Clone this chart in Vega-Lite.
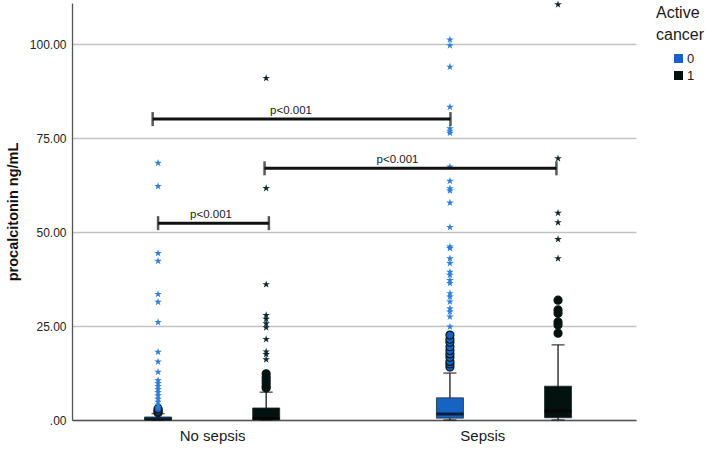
{
  "$schema": "https://vega.github.io/schema/vega-lite/v6.json",
  "width": 564,
  "height": 417,
  "autosize": {"type": "none"},
  "padding": {"left": 72, "top": 3, "right": 73, "bottom": 35},
  "background": "white",
  "config": {
    "font": "Liberation Sans",
    "view": {"stroke": null},
    "axis": {"labelColor": "#222222", "titleColor": "#111111", "domainColor": "#555555", "domainWidth": 1.3}
  },
  "datasets": {
    "boxes": [
      {"group": "No sepsis", "cancer": "0", "pos": 1.0, "lo": 0.0, "q1": 0.05, "med": 0.25, "q3": 0.8, "hi": 1.7},
      {"group": "No sepsis", "cancer": "1", "pos": 3.0, "lo": 0.0, "q1": 0.05, "med": 0.4, "q3": 3.2, "hi": 7.4},
      {"group": "Sepsis", "cancer": "0", "pos": 6.4, "lo": 0.0, "q1": 0.5, "med": 1.6, "q3": 5.9, "hi": 12.5},
      {"group": "Sepsis", "cancer": "1", "pos": 8.4, "lo": 0.0, "q1": 0.6, "med": 2.4, "q3": 9.0, "hi": 20.0}
    ],
    "outliers": [
      {"cancer": "0", "pos": 1.0, "value": 1.9},
      {"cancer": "0", "pos": 1.0, "value": 2.2},
      {"cancer": "0", "pos": 1.0, "value": 2.6},
      {"cancer": "0", "pos": 1.0, "value": 3.0},
      {"cancer": "1", "pos": 3.0, "value": 8.5},
      {"cancer": "1", "pos": 3.0, "value": 9.0},
      {"cancer": "1", "pos": 3.0, "value": 9.8},
      {"cancer": "1", "pos": 3.0, "value": 10.6},
      {"cancer": "1", "pos": 3.0, "value": 11.4},
      {"cancer": "1", "pos": 3.0, "value": 12.3},
      {"cancer": "0", "pos": 6.4, "value": 14.1},
      {"cancer": "0", "pos": 6.4, "value": 14.9},
      {"cancer": "0", "pos": 6.4, "value": 15.6},
      {"cancer": "0", "pos": 6.4, "value": 16.7},
      {"cancer": "0", "pos": 6.4, "value": 17.6},
      {"cancer": "0", "pos": 6.4, "value": 18.5},
      {"cancer": "0", "pos": 6.4, "value": 19.5},
      {"cancer": "0", "pos": 6.4, "value": 20.7},
      {"cancer": "0", "pos": 6.4, "value": 21.5},
      {"cancer": "0", "pos": 6.4, "value": 22.6},
      {"cancer": "1", "pos": 8.4, "value": 23.1},
      {"cancer": "1", "pos": 8.4, "value": 25.3},
      {"cancer": "1", "pos": 8.4, "value": 26.1},
      {"cancer": "1", "pos": 8.4, "value": 28.4},
      {"cancer": "1", "pos": 8.4, "value": 29.3},
      {"cancer": "1", "pos": 8.4, "value": 31.9}
    ],
    "extremes": [
      {"cancer": "0", "pos": 1.0, "value": 68.4},
      {"cancer": "0", "pos": 1.0, "value": 62.2},
      {"cancer": "0", "pos": 1.0, "value": 44.4},
      {"cancer": "0", "pos": 1.0, "value": 42.3},
      {"cancer": "0", "pos": 1.0, "value": 33.5},
      {"cancer": "0", "pos": 1.0, "value": 31.4},
      {"cancer": "0", "pos": 1.0, "value": 26.0},
      {"cancer": "0", "pos": 1.0, "value": 18.1},
      {"cancer": "0", "pos": 1.0, "value": 15.5},
      {"cancer": "0", "pos": 1.0, "value": 12.8},
      {"cancer": "0", "pos": 1.0, "value": 10.6},
      {"cancer": "0", "pos": 1.0, "value": 9.8},
      {"cancer": "0", "pos": 1.0, "value": 9.0},
      {"cancer": "0", "pos": 1.0, "value": 8.2},
      {"cancer": "0", "pos": 1.0, "value": 7.4},
      {"cancer": "0", "pos": 1.0, "value": 6.5},
      {"cancer": "0", "pos": 1.0, "value": 5.6},
      {"cancer": "0", "pos": 1.0, "value": 4.8},
      {"cancer": "0", "pos": 1.0, "value": 4.0},
      {"cancer": "0", "pos": 1.0, "value": 3.3},
      {"cancer": "1", "pos": 3.0, "value": 91.0},
      {"cancer": "1", "pos": 3.0, "value": 61.7},
      {"cancer": "1", "pos": 3.0, "value": 36.1},
      {"cancer": "1", "pos": 3.0, "value": 27.9},
      {"cancer": "1", "pos": 3.0, "value": 26.9},
      {"cancer": "1", "pos": 3.0, "value": 25.7},
      {"cancer": "1", "pos": 3.0, "value": 24.6},
      {"cancer": "1", "pos": 3.0, "value": 21.5},
      {"cancer": "1", "pos": 3.0, "value": 18.2},
      {"cancer": "1", "pos": 3.0, "value": 17.5},
      {"cancer": "1", "pos": 3.0, "value": 16.1},
      {"cancer": "0", "pos": 6.4, "value": 101.2},
      {"cancer": "0", "pos": 6.4, "value": 99.7},
      {"cancer": "0", "pos": 6.4, "value": 94.0},
      {"cancer": "0", "pos": 6.4, "value": 83.3},
      {"cancer": "0", "pos": 6.4, "value": 77.6},
      {"cancer": "0", "pos": 6.4, "value": 76.9},
      {"cancer": "0", "pos": 6.4, "value": 76.4},
      {"cancer": "0", "pos": 6.4, "value": 67.4},
      {"cancer": "0", "pos": 6.4, "value": 63.6},
      {"cancer": "0", "pos": 6.4, "value": 61.6},
      {"cancer": "0", "pos": 6.4, "value": 61.0},
      {"cancer": "0", "pos": 6.4, "value": 57.8},
      {"cancer": "0", "pos": 6.4, "value": 51.3},
      {"cancer": "0", "pos": 6.4, "value": 46.1},
      {"cancer": "0", "pos": 6.4, "value": 45.7},
      {"cancer": "0", "pos": 6.4, "value": 43.0},
      {"cancer": "0", "pos": 6.4, "value": 41.7},
      {"cancer": "0", "pos": 6.4, "value": 39.4},
      {"cancer": "0", "pos": 6.4, "value": 38.6},
      {"cancer": "0", "pos": 6.4, "value": 37.2},
      {"cancer": "0", "pos": 6.4, "value": 36.4},
      {"cancer": "0", "pos": 6.4, "value": 33.7},
      {"cancer": "0", "pos": 6.4, "value": 32.8},
      {"cancer": "0", "pos": 6.4, "value": 31.5},
      {"cancer": "0", "pos": 6.4, "value": 29.7},
      {"cancer": "0", "pos": 6.4, "value": 28.8},
      {"cancer": "0", "pos": 6.4, "value": 27.5},
      {"cancer": "0", "pos": 6.4, "value": 24.8},
      {"cancer": "1", "pos": 8.4, "value": 110.6},
      {"cancer": "1", "pos": 8.4, "value": 69.6},
      {"cancer": "1", "pos": 8.4, "value": 55.1},
      {"cancer": "1", "pos": 8.4, "value": 52.6},
      {"cancer": "1", "pos": 8.4, "value": 48.1},
      {"cancer": "1", "pos": 8.4, "value": 43.0}
    ],
    "brackets": [
      {"pos": 1.0, "pos2": 3.05, "level": 52.4, "mid": 1.98, "label": "p<0.001"},
      {"pos": 0.9, "pos2": 6.41, "level": 80.1, "mid": 3.46, "label": "p<0.001"},
      {"pos": 2.97, "pos2": 8.37, "level": 67.0, "mid": 5.43, "label": "p<0.001"}
    ]
  },
  "layer": [
    {
      "data": {"name": "boxes"},
      "mark": {"type": "rule", "color": "#1a1a1a", "strokeWidth": 1.3},
      "encoding": {
        "x": {
          "field": "pos", "type": "quantitative", "title": null,
          "scale": {"domain": [-0.5, 9.75], "nice": false, "zero": false},
          "axis": {
            "values": [2, 7],
            "labelExpr": "datum.value == 2 ? 'No sepsis' : 'Sepsis'",
            "ticks": false, "grid": false, "labelFontSize": 15, "labelPadding": 8,
            "labelColor": "#1a1a1a"
          }
        },
        "y": {
          "field": "lo", "type": "quantitative",
          "title": "procalcitonin ng/mL",
          "scale": {"domain": [0, 111], "nice": false},
          "axis": {
            "values": [0, 25, 50, 75, 100],
            "labelExpr": "datum.value === 0 ? '.00' : format(datum.value, '.2f')",
            "ticks": false, "labelPadding": 6, "labelFontSize": 12,
            "grid": true, "gridColor": "#c2c2c2", "gridWidth": 1.4,
            "titleFontSize": 14.5, "titleFontWeight": "bold", "titlePadding": 9
          }
        },
        "y2": {"field": "hi"}
      }
    },
    {
      "data": {"name": "boxes"},
      "mark": {"type": "tick", "orient": "horizontal", "size": 13, "thickness": 1.5, "color": "#1a1a1a"},
      "encoding": {
        "x": {"field": "pos", "type": "quantitative", "title": null},
        "y": {"field": "hi", "type": "quantitative", "title": "procalcitonin ng/mL"}
      }
    },
    {
      "data": {"name": "boxes"},
      "mark": {"type": "tick", "orient": "horizontal", "size": 13, "thickness": 1.5, "color": "#1a1a1a"},
      "encoding": {
        "x": {"field": "pos", "type": "quantitative", "title": null},
        "y": {"field": "lo", "type": "quantitative", "title": "procalcitonin ng/mL"}
      }
    },
    {
      "data": {"name": "boxes"},
      "mark": {"type": "bar", "size": 27, "stroke": "#1d2b2b", "strokeWidth": 0.8},
      "encoding": {
        "x": {"field": "pos", "type": "quantitative", "title": null},
        "y": {"field": "q1", "type": "quantitative", "title": "procalcitonin ng/mL"},
        "y2": {"field": "q3"},
        "color": {
          "field": "cancer", "type": "nominal",
          "scale": {"domain": ["0", "1"], "range": ["#1763c4", "#04120f"]},
          "legend": {
            "title": ["Active", "cancer"],
            "orient": "none", "legendX": 584, "legendY": 2,
            "titleFontSize": 16, "titleFontWeight": "normal", "titleLineHeight": 22,
            "titleColor": "#1a1a1a", "titlePadding": 9,
            "symbolType": "square", "symbolSize": 81, "symbolStrokeWidth": 0,
            "symbolOffset": 16, "labelFontSize": 13, "labelColor": "#1a1a1a",
            "labelOffset": 2, "rowPadding": 3
          }
        }
      }
    },
    {
      "data": {"name": "boxes"},
      "mark": {"type": "tick", "orient": "horizontal", "size": 27, "thickness": 3, "color": "#000000"},
      "encoding": {
        "x": {"field": "pos", "type": "quantitative", "title": null},
        "y": {"field": "med", "type": "quantitative", "title": "procalcitonin ng/mL"}
      }
    },
    {
      "data": {"name": "outliers"},
      "mark": {"type": "point", "shape": "circle", "filled": true, "size": 64, "opacity": 1, "stroke": "#0c1616", "strokeWidth": 1.2},
      "encoding": {
        "x": {"field": "pos", "type": "quantitative", "title": null},
        "y": {"field": "value", "type": "quantitative", "title": "procalcitonin ng/mL"},
        "color": {"field": "cancer", "type": "nominal"}
      }
    },
    {
      "data": {"name": "extremes"},
      "mark": {
        "type": "point",
        "shape": "M0,-1L0.2245,-0.309L0.9511,-0.309L0.3633,0.118L0.5878,0.809L0,0.382L-0.5878,0.809L-0.3633,0.118L-0.9511,-0.309L-0.2245,-0.309Z",
        "filled": true, "size": 64, "opacity": 1, "strokeWidth": 0
      },
      "encoding": {
        "x": {"field": "pos", "type": "quantitative", "title": null},
        "y": {"field": "value", "type": "quantitative", "title": "procalcitonin ng/mL"},
        "fill": {
          "field": "cancer", "type": "nominal",
          "scale": {"domain": ["0", "1"], "range": ["#2f7fd6", "#0f2a2e"]},
          "legend": null
        }
      }
    },
    {
      "data": {"name": "brackets"},
      "mark": {"type": "rule", "color": "#111111", "strokeWidth": 3},
      "encoding": {
        "x": {"field": "pos", "type": "quantitative", "title": null},
        "x2": {"field": "pos2"},
        "y": {"field": "level", "type": "quantitative", "title": "procalcitonin ng/mL"}
      }
    },
    {
      "data": {"name": "brackets"},
      "mark": {"type": "tick", "orient": "vertical", "size": 14, "thickness": 2.5, "color": "#111111"},
      "encoding": {
        "x": {"field": "pos", "type": "quantitative", "title": null},
        "y": {"field": "level", "type": "quantitative", "title": "procalcitonin ng/mL"}
      }
    },
    {
      "data": {"name": "brackets"},
      "mark": {"type": "tick", "orient": "vertical", "size": 14, "thickness": 2.5, "color": "#111111"},
      "encoding": {
        "x": {"field": "pos2", "type": "quantitative", "title": null},
        "y": {"field": "level", "type": "quantitative", "title": "procalcitonin ng/mL"}
      }
    },
    {
      "data": {"name": "brackets"},
      "mark": {"type": "text", "fontSize": 11.5, "color": "#1a1a1a", "baseline": "alphabetic", "align": "center", "dy": -5},
      "encoding": {
        "x": {"field": "mid", "type": "quantitative", "title": null},
        "y": {"field": "level", "type": "quantitative", "title": "procalcitonin ng/mL"},
        "text": {"field": "label"}
      }
    }
  ]
}
